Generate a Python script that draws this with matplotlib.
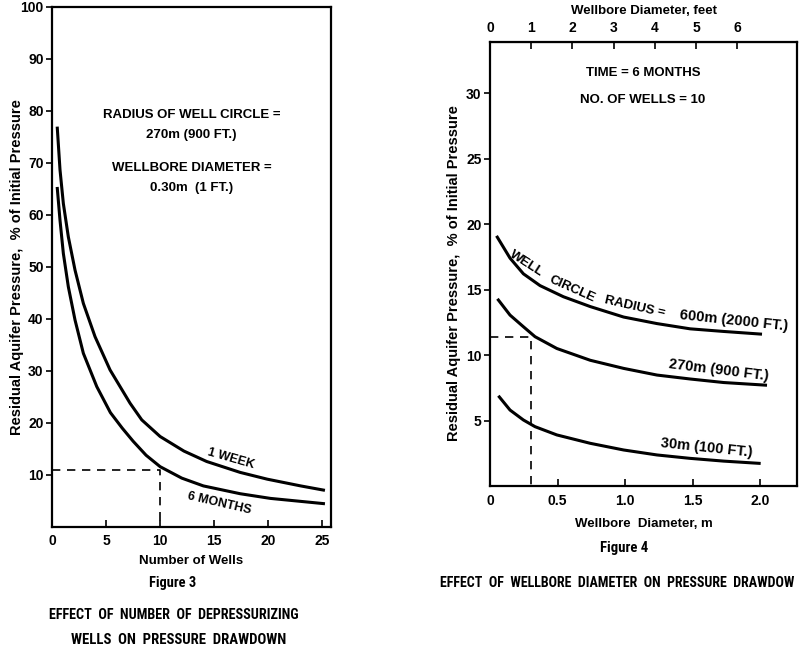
import matplotlib.pyplot as plt

plt.rcParams['font.family'] = ['Liberation Sans', 'DejaVu Sans']
plt.rcParams['font.weight'] = 'bold'
plt.rcParams['axes.labelweight'] = 'bold'

# Figure 3 data: residual pressure vs number of wells
wells_week = [0.49, 0.74, 1.05, 1.51, 2.13, 2.9, 3.98, 5.37, 7.22, 8.3, 10.0, 12.2, 14.3, 17.4, 19.9, 23.0, 25.1]
press_week = [76.7, 68.7, 62.2, 55.8, 49.4, 43.0, 36.6, 30.2, 23.8, 20.6, 17.4, 14.6, 12.6, 10.5, 9.2, 7.9, 7.1]
wells_6mo = [0.49, 0.74, 1.05, 1.51, 2.13, 2.9, 4.14, 5.4, 6.5, 7.5, 8.7, 10.0, 12.0, 14.0, 17.4, 20.2, 25.1]
press_6mo = [65.1, 59.0, 52.6, 46.2, 39.8, 33.4, 27.0, 22.0, 19.0, 16.5, 13.8, 11.6, 9.4, 7.9, 6.4, 5.5, 4.5]

# Figure 4 data: residual pressure vs wellbore diameter (m)
diam_600 = [0.054, 0.148, 0.247, 0.37, 0.543, 0.741, 0.988, 1.235, 1.48, 1.728, 2.0]
press_600 = [19.0, 17.4, 16.2, 15.3, 14.45, 13.7, 12.9, 12.4, 12.0, 11.8, 11.6]
diam_270 = [0.062, 0.148, 0.247, 0.333, 0.494, 0.741, 0.988, 1.235, 1.48, 1.728, 2.037]
press_270 = [14.2, 13.05, 12.16, 11.4, 10.5, 9.6, 8.98, 8.47, 8.17, 7.9, 7.7]
diam_30 = [0.069, 0.148, 0.247, 0.333, 0.494, 0.741, 0.988, 1.235, 1.48, 1.728, 1.99]
press_30 = [6.8, 5.8, 5.04, 4.53, 3.9, 3.26, 2.75, 2.37, 2.11, 1.9, 1.73]

FT = 0.3048

fig = plt.figure(figsize=(8, 6.5), dpi=100)

def fx(px):
    return px / 800

def fy(py):
    return 1 - py / 650

# ---- Figure 3 ----
ax1 = fig.add_axes([fx(52), fy(527), fx(331 - 52), (527 - 7) / 650])
ax1.plot(wells_week, press_week, color='black', lw=2.2)
ax1.plot(wells_6mo, press_6mo, color='black', lw=2.2)
ax1.plot([0, 10, 10], [11, 11, 0], color='black', lw=1.2, dashes=(5, 4))
ax1.set_xlim(0, 25.8)
ax1.set_ylim(0, 100)
ax1.set_xticks([0, 5, 10, 15, 20, 25])
ax1.set_yticks([10, 20, 30, 40, 50, 60, 70, 80, 90, 100])
ax1.tick_params(axis='x', direction='in', length=5, width=1.2, labelsize=10, pad=5)
ax1.tick_params(axis='y', direction='out', length=4, width=1.2, labelsize=10, pad=2)
for s in ax1.spines.values():
    s.set_linewidth(1.6)
ax1.set_xlabel('Number of Wells', fontsize=9.5, labelpad=5)
ax1.set_ylabel('Residual Aquifer Pressure,  % of Initial Pressure', fontsize=10.5)
ax1.yaxis.set_label_coords(-0.10, 0.5)

ax1.text(12.9, 79.2, 'RADIUS OF WELL CIRCLE =', ha='center', va='center', fontsize=9.5)
ax1.text(12.9, 75.4, '270m (900 FT.)', ha='center', va='center', fontsize=9.5)
ax1.text(12.9, 69.0, 'WELLBORE DIAMETER =', ha='center', va='center', fontsize=9.5)
ax1.text(12.9, 65.2, '0.30m  (1 FT.)', ha='center', va='center', fontsize=9.5)
ax1.text(16.5, 13.1, '1 WEEK', ha='center', va='center', fontsize=9, rotation=-16)
ax1.text(15.5, 4.6, '6 MONTHS', ha='center', va='center', fontsize=9, rotation=-13)

# ---- Figure 4 ----
ax2 = fig.add_axes([fx(490), fy(486), fx(797 - 490), (486 - 42) / 650])
ax2.plot(diam_600, press_600, color='black', lw=2.2)
ax2.plot(diam_270, press_270, color='black', lw=2.2)
ax2.plot(diam_30, press_30, color='black', lw=2.2)
ax2.plot([0, FT, FT], [11.35, 11.35, 0], color='black', lw=1.2, dashes=(5, 4))
ax2.set_xlim(0, 2.27)
ax2.set_ylim(0, 33.9)
ax2.set_xticks([0, 0.5, 1.0, 1.5, 2.0])
ax2.set_xticklabels(['0', '0.5', '1.0', '1.5', '2.0'])
ax2.set_yticks([5, 10, 15, 20, 25, 30])
ax2.tick_params(axis='x', direction='in', length=5, width=1.2, labelsize=10, pad=6)
ax2.tick_params(axis='y', direction='out', length=4, width=1.2, labelsize=10, pad=2)
for s in ax2.spines.values():
    s.set_linewidth(1.6)
ax2.set_xlabel('Wellbore  Diameter, m', fontsize=9.5, labelpad=7)
ax2.set_ylabel('Residual Aquifer Pressure,  % of Initial Pressure', fontsize=10.5)
ax2.yaxis.set_label_coords(-0.095, 0.48)

top = ax2.secondary_xaxis('top', functions=(lambda m: m / FT, lambda f: f * FT))
top.set_xticks([0, 1, 2, 3, 4, 5, 6])
top.tick_params(direction='in', length=5, width=1.2, labelsize=10, pad=5)
top.set_xlabel('Wellbore Diameter, feet', fontsize=9.5, labelpad=5)

ax2.text(1.13, 31.5, 'TIME = 6 MONTHS', ha='center', va='center', fontsize=9.5)
ax2.text(1.13, 29.5, 'NO. OF WELLS = 10', ha='center', va='center', fontsize=9.5)
ax2.text(0.27, 17.0, 'WELL', ha='center', va='center', fontsize=9.5, rotation=-33)
ax2.text(0.61, 15.0, 'CIRCLE', ha='center', va='center', fontsize=9.5, rotation=-24)
ax2.text(1.07, 13.7, 'RADIUS =', ha='center', va='center', fontsize=9.5, rotation=-13)
ax2.text(1.8, 12.6, '600m (2000 FT.)', ha='center', va='center', fontsize=10.5, rotation=-6)
ax2.text(1.69, 8.85, '270m (900 FT.)', ha='center', va='center', fontsize=10.5, rotation=-7)
ax2.text(1.6, 2.9, '30m (100 FT.)', ha='center', va='center', fontsize=10.5, rotation=-6)

# captions, in a narrow face where one is installed
narrow = ['Roboto Condensed', 'Open Sans Condensed', 'Liberation Sans Narrow',
          'DejaVu Sans Condensed', 'Arial Narrow', 'DejaVu Sans']
cap = dict(va='center', family=narrow, fontstretch='condensed', fontsize=11)
captions = [
    (fig.text(fx(173), fy(583), 'Figure 3', ha='center', **cap), 47),
    (fig.text(fx(174), fy(615), 'EFFECT  OF  NUMBER  OF  DEPRESSURIZING', ha='center', **cap), 249),
    (fig.text(fx(179), fy(640), 'WELLS  ON  PRESSURE  DRAWDOWN', ha='center', **cap), 215),
    (fig.text(fx(624), fy(548), 'Figure 4', ha='center', **cap), 48),
    (fig.text(fx(440), fy(583), 'EFFECT  OF  WELLBORE  DIAMETER  ON  PRESSURE  DRAWDOW', ha='left', **cap), 356),
]

# size each caption to about the width it takes in the scan
fig.canvas.draw()
renderer = fig.canvas.get_renderer()
for t, w in captions:
    cur = t.get_window_extent(renderer).width
    t.set_fontsize(t.get_fontsize() * w / cur)

fig.savefig('out.png', dpi=100)
plt.close()
